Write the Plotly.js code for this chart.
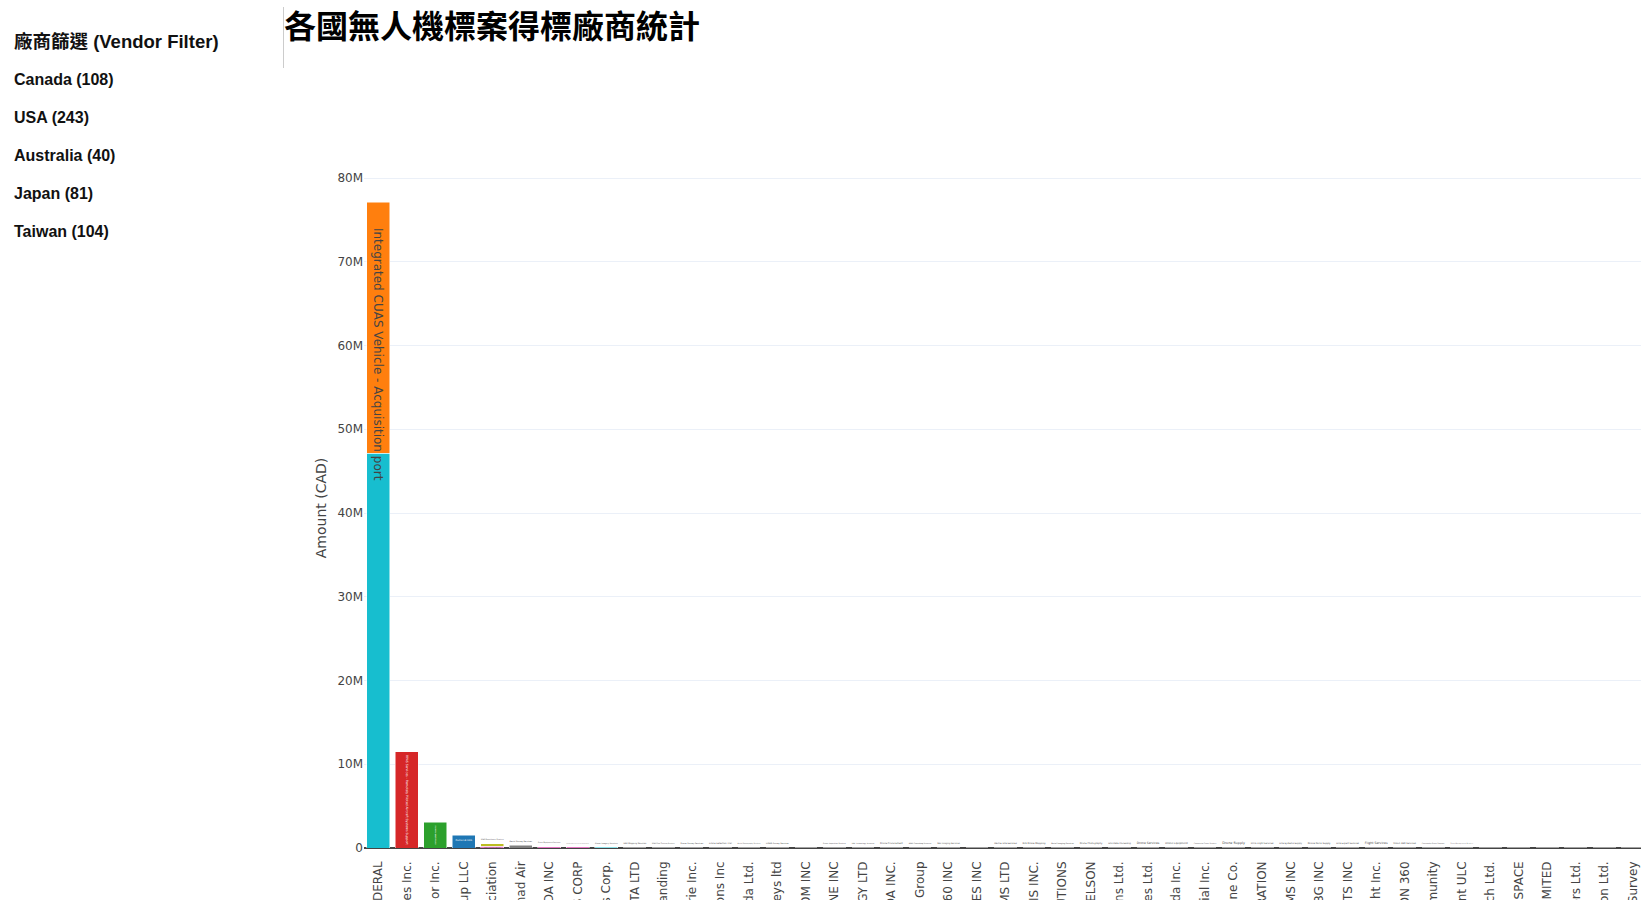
<!DOCTYPE html>
<html>
<head>
<meta charset="utf-8">
<script src="https://cdn.plot.ly/plotly-3.0.1.min.js"></script>
<style>
  html, body { margin: 0; padding: 0; background: #fff; overflow: hidden; width: 1641px; height: 900px; }
  #side { position: absolute; left: 0; top: 0; width: 283px; z-index: 2; }
  .hdr { position: absolute; left: 14px; top: 32px; font: bold 18.5px/20px "Liberation Sans", Arial, "Noto Sans CJK TC", sans-serif; color: #111; white-space: nowrap; }
  .item { position: absolute; left: 14px; font: bold 16px/18px "Liberation Sans", Arial, sans-serif; color: #111; white-space: nowrap; }
  #vline { position: absolute; left: 283px; top: 7px; width: 1px; height: 61px; background: #ccc; z-index: 2; }
  #title { position: absolute; left: 284px; top: 8px; margin: 0; font: bold 32px/32px "Noto Sans CJK TC", sans-serif; color: #000; white-space: nowrap; z-index: 2; }
  #chart { position: absolute; left: 283px; top: 0; width: 1394px; height: 1150px; z-index: 1; }
</style>
</head>
<body>
<div id="chart"></div>
<div id="side"></div>
<div id="vline"></div>
<h1 id="title"></h1>
<script>
// ---------- data ----------
const pageTitle = "各國無人機標案得標廠商統計";
const filterHeader = "廠商篩選 (Vendor Filter)";
const countries = ["Canada", "USA", "Australia", "Japan", "Taiwan"];
const countryCounts = [108, 243, 40, 81, 104];

const vendors = [
  "GENERAL DYNAMICS FEDERAL",
  "Calian Defence Services Inc.",
  "Sky Condor Inc.",
  "AeroVironment Group LLC",
  "Unmanned Systems Canada Association",
  "Northern Canad Air",
  "SKYDIO CANADA INC",
  "DRAGANFLY AERIAL SYSTEMS CORP",
  "Kongsberg Drones Corp.",
  "2133445 ALBERTA LTD",
  "Aeriform Outstanding",
  "Aero Prairie Inc.",
  "Draganfly Innovations Inc",
  "Skyfish Canada Ltd.",
  "Skyline Aerial Surveys ltd",
  "VANTAGE TELECOM INC",
  "DEEP BLUE DRONE INC",
  "ARCTIC UAV TECHNOLOGY LTD",
  "PARROT CANADA INC.",
  "Kestrel Aviation Group",
  "AERO 360 INC",
  "NORTHERN UAV SERVICES INC",
  "MARINE UNMANNED SYSTEMS LTD",
  "TERRA GIS INC.",
  "AERIAL IMAGING SOLUTIONS",
  "ROBERT NELSON",
  "Aeromao Solutions Ltd.",
  "Coastal Drone Services Ltd.",
  "DJI Canada Inc.",
  "UAV Commercial Inc.",
  "Great Lakes Drone Co.",
  "VOLATUS AEROSPACE CORPORATION",
  "ROBOTIC AVIATION SYSTEMS INC",
  "SKY KBG INC",
  "UAS EXPERTS INC",
  "First Flight Inc.",
  "AERO VISION 360",
  "UAV Pilots Community",
  "Skyline Management ULC",
  "Arctic Research Ltd.",
  "CANADIAN UAV AEROSPACE",
  "PRECISIONHAWK CANADA LIMITED",
  "Aerial Contractors Ltd.",
  "Drone Aviation Ltd.",
  "Northern Aerial Survey"
];

// lower contract segment per vendor (CAD)
const baseAmounts = [
  47140000, 11500000, 3060000, 1500000, 200000, 320000, 150000, 140000, 110000, 20000,
  30000, 25000, 25000, 25000, 30000, 8000, 20000, 20000, 20000, 20000,
  20000, 5000, 15000, 15000, 15000, 15000, 15000, 15000, 15000, 15000,
  15000, 15000, 15000, 15000, 15000, 15000, 15000, 15000, 15000, 3000,
  3000, 3000, 3000, 3000, 3000
];
const baseTexts = [
  "",
  "RPAS Services - Remotely Piloted Aircraft Systems Support",
  "Small Uncrewed Aircraft System Supply",
  "Puma LE UAS",
  "RPAS Training Program",
  "Aerial Survey Services",
  "Drone Equipment Purchase",
  "Unmanned Aerial System Maintenance",
  "Drone Imagery Services",
  "UAV Mapping Services",
  "RPAS Pilot Training Services",
  "Drone Survey Services",
  "Drone Detection Trial",
  "Aerial Photography Services",
  "LiDAR Survey Services",
  "",
  "Drone Inspection Services",
  "UAV Technology Services",
  "Drone Procurement",
  "RPAS Consulting Services",
  "360 Imaging Services",
  "",
  "Marine UAS Services",
  "GIS Drone Mapping",
  "Aerial Imaging Services",
  "Drone Photography",
  "UAV Data Processing",
  "Drone Services",
  "Drone Equipment",
  "Commercial Drone Services",
  "Drone Supply",
  "RPAS Flight Services",
  "UAS Systems Supply",
  "Drone Parts Supply",
  "UAS Expert Services",
  "Flight Services",
  "Vision 360 Services",
  "Community Drone Program",
  "Drone Management Services",
  "", "", "", "", "", ""
];

// upper contract segment per vendor (CAD)
const topAmounts = [
  30000000, null, null, null, 320000, null, null, null, null, null,
  null, null, null, null, null, null, null, null, null, null,
  null, null, null, null, null, null, null, null, null, null,
  null, null, null, null, null, null, null, null, null, null,
  null, null, null, null, null
];
const topTexts = [
  "Integrated CUAS Vehicle - Acquisition port",
  "", "", "", "RPAS Surveillance Services", "", "", "", "", "",
  "", "", "", "", "", "", "", "", "", "",
  "", "", "", "", "", "", "", "", "", "",
  "", "", "", "", "", "", "", "", "", "",
  "", "", "", "", ""
];

// ---------- styles ----------
const baseColors = [
  "#17becf", "#d62728", "#2ca02c", "#1f77b4", "#e377c2", "#7f7f7f", "#e377c2", "#e377c2", "#17becf", "#c7c7c7",
  "#2ca02c", "#9467bd", "#1f77b4", "#8c564b", "#2ca02c", "#c7c7c7", "#7f7f7f", "#7f7f7f", "#7f7f7f", "#7f7f7f",
  "#7f7f7f", "#c7c7c7", "#7f7f7f", "#7f7f7f", "#7f7f7f", "#7f7f7f", "#7f7f7f", "#7f7f7f", "#7f7f7f", "#7f7f7f",
  "#7f7f7f", "#7f7f7f", "#7f7f7f", "#7f7f7f", "#7f7f7f", "#7f7f7f", "#7f7f7f", "#7f7f7f", "#7f7f7f", "#7f7f7f",
  "#7f7f7f", "#7f7f7f", "#7f7f7f", "#7f7f7f", "#7f7f7f"
];
const topColors = vendors.map((v, i) => i === 0 ? "#ff7f0e" : "#bcbd22");
// small leading gap so the long label sits like in the original rendering
const textLead = "\u00a0".repeat(6);

// ---------- side panel & title ----------
const side = document.getElementById("side");
const hdr = document.createElement("div");
hdr.className = "hdr"; hdr.textContent = filterHeader; side.appendChild(hdr);
countries.forEach((c, i) => {
  const d = document.createElement("div");
  d.className = "item";
  d.style.top = (70.5 + i * 38.1) + "px";
  d.textContent = c + " (" + countryCounts[i] + ")";
  side.appendChild(d);
});
document.getElementById("title").textContent = pageTitle;

// ---------- chart ----------
const FONT = "DejaVu Sans, Verdana, sans-serif";
const traces = [
  {
    type: "bar", name: "Contract A", x: vendors, y: baseAmounts, text: baseTexts,
    textposition: "auto",
    textfont: { family: FONT, size: 12 },
    marker: { color: baseColors, line: { color: "#ffffff", width: 0.5 } },
    hoverinfo: "x+y+text", showlegend: false
  },
  {
    type: "bar", name: "Contract B", x: vendors, y: topAmounts,
    text: topTexts.map((t, i) => i === 0 ? textLead + t : t),
    textposition: "auto",
    constraintext: "outside",
    textfont: { family: FONT, size: 12 },
    marker: { color: topColors, line: { color: "#ffffff", width: 0.5 } },
    hoverinfo: "x+y+text", showlegend: false
  }
];

const layout = {
  barmode: "stack",
  bargap: 0.2,
  width: 1394,
  height: 1150,
  margin: { l: 81, r: 30, t: 168, b: 302, pad: 0 },
  paper_bgcolor: "rgba(255,255,255,0)",
  plot_bgcolor: "#ffffff",
  font: { family: FONT, size: 12, color: "#444" },
  showlegend: false,
  xaxis: {
    type: "category",
    tickangle: -90,
    tickfont: { family: FONT, size: 12, color: "#444" },
    ticklabelstandoff: 10,
    showgrid: false,
    zeroline: false,
    ticks: "",
    automargin: false
  },
  yaxis: {
    title: { text: "Amount (CAD)", font: { family: FONT, size: 14, color: "#444" } },
    tickfont: { family: FONT, size: 12, color: "#444" },
    gridcolor: "#ebf0f8",
    zeroline: true,
    zerolinecolor: "#444",
    zerolinewidth: 1.5,
    ticks: "",
    automargin: false
  }
};

Plotly.newPlot("chart", traces, layout, { displayModeBar: false, responsive: false });
</script>
</body>
</html>
